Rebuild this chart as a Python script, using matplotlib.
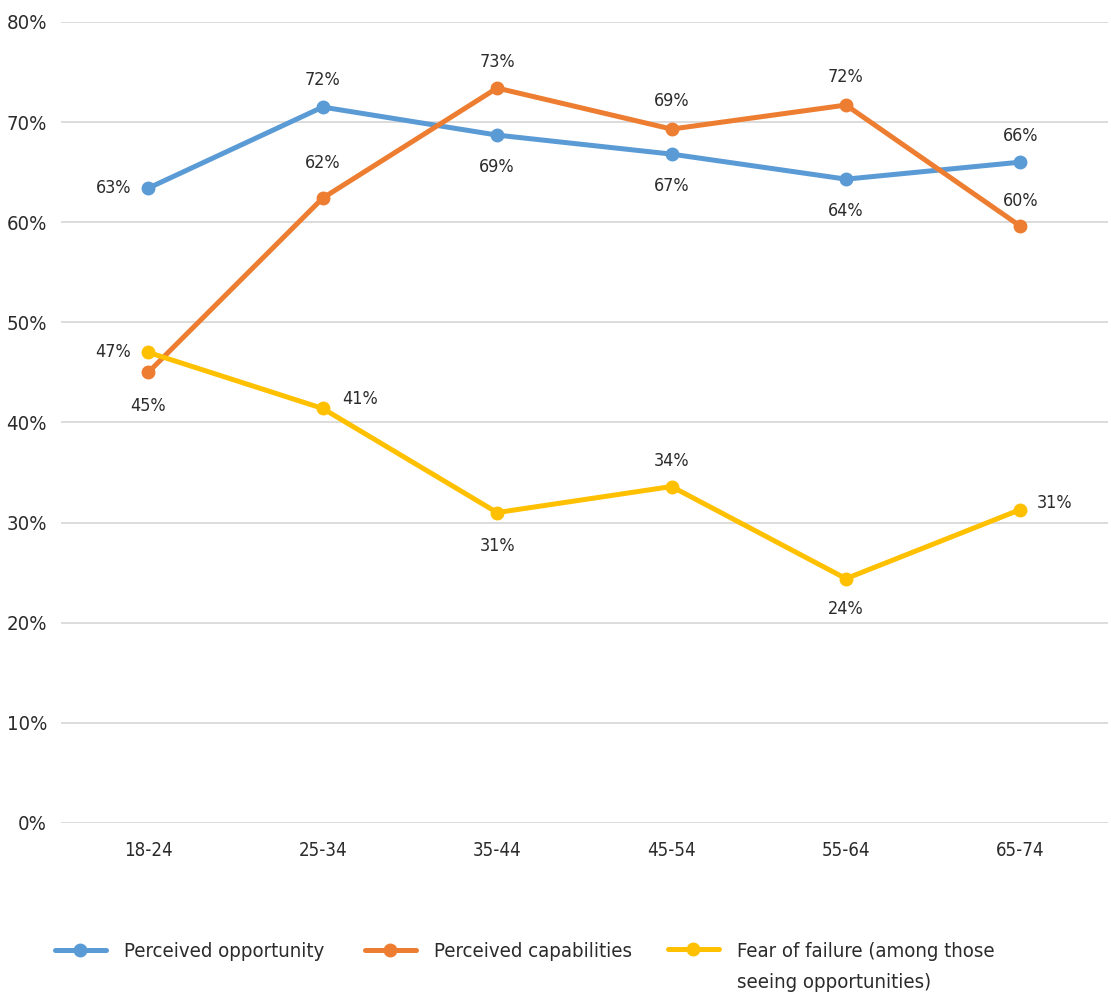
import matplotlib
matplotlib.use("Agg")
import matplotlib.pyplot as plt
from matplotlib import font_manager
from matplotlib.legend_handler import HandlerLine2D
from matplotlib.ticker import FuncFormatter

# prefer a condensed face when one is installed
condensed = any(f.name == "DejaVu Sans" and f.stretch == "condensed"
                for f in font_manager.fontManager.ttflist)
plt.rcParams["font.family"] = ["DejaVu Sans"]
if condensed:
    plt.rcParams["font.stretch"] = "condensed"
k = 1.12 if condensed else 1.0

age_groups = ["18-24", "25-34", "35-44", "45-54", "55-64", "65-74"]
perceived_opportunity = [63.4, 71.5, 68.7, 66.8, 64.3, 66.0]
perceived_capabilities = [45.0, 62.4, 73.4, 69.3, 71.7, 59.6]
fear_of_failure = [47.0, 41.4, 31.0, 33.6, 24.4, 31.3]

series = [
    ("Perceived opportunity", perceived_opportunity, "#5B9BD5",
     [(-35, 0), (0, 27), (0, -32), (0, -32), (0, -32), (0, 26)]),
    ("Perceived capabilities", perceived_capabilities, "#ED7D31",
     [(0, -34), (0, 35), (0, 26), (0, 28), (0, 28), (0, 25)]),
    ("Fear of failure (among those\nseeing opportunities)", fear_of_failure, "#FFC000",
     [(-35, 0), (37, 9), (0, -33), (0, 26), (0, -30), (34, 7)]),
]

text_color = "#2b2b2b"
legend_fs = 13 * k
legend_ls = 1.8


class FirstLineHandler(HandlerLine2D):
    """Put the handle next to the first line of a two-line label."""

    def __init__(self, shift, **kw):
        super().__init__(**kw)
        self.shift = shift

    def create_artists(self, legend, orig_handle, xdescent, ydescent,
                       width, height, fontsize, trans):
        return super().create_artists(legend, orig_handle, xdescent,
                                      ydescent - 2 * self.shift, width, height,
                                      fontsize, trans)


fig = plt.figure(figsize=(11.11, 9.98), dpi=100)
ax = fig.add_axes([0.0549, 0.1754, 0.9421, 0.8026])

x = list(range(len(age_groups)))
lines = []
for name, vals, color, offsets in series:
    ln, = ax.plot(x, vals, color=color, linewidth=3.6, marker="o", markersize=9,
                  label=name, solid_capstyle="round", zorder=3)
    lines.append(ln)
    for xi, v, (dx, dy) in zip(x, vals, offsets):
        ax.annotate(f"{v:.0f}%", (xi, v), xytext=(dx, dy), textcoords="offset pixels",
                    ha="center", va="center", fontsize=11.5 * k, color=text_color)

ax.set_xlim(-0.5, len(age_groups) - 0.5)
ax.set_ylim(0, 80)
ax.set_yticks(range(0, 81, 10))
ax.yaxis.set_major_formatter(FuncFormatter(lambda v, _: f"{v:.0f}%"))
ax.set_xticks(x)
ax.set_xticklabels(age_groups)
ax.grid(axis="y", color="#D9D9D9", linewidth=1.3)
ax.set_axisbelow(True)
for s in ax.spines.values():
    s.set_visible(False)
ax.tick_params(axis="y", length=0, pad=10, labelsize=13 * k, labelcolor=text_color)
ax.tick_params(axis="x", length=0, pad=13, labelsize=12 * k, labelcolor=text_color)

# one legend per entry so the two-line label hangs below the row
legend_x = [55, 365, 668]
for ln, lx in zip(lines, legend_x):
    handler = {}
    if "\n" in ln.get_label():
        handler = {ln: FirstLineHandler(shift=legend_fs * legend_ls / 2)}
    leg = fig.legend([ln], [ln.get_label()], loc="upper left",
                     bbox_to_anchor=(lx / 1111, 1 - 942 / 998), frameon=False,
                     fontsize=legend_fs, handlelength=2.5, handletextpad=0.9,
                     borderpad=0, borderaxespad=0, labelcolor=text_color,
                     handler_map=handler)
    for t in leg.get_texts():
        t.set_linespacing(legend_ls)

fig.savefig("out.png", dpi=100)
